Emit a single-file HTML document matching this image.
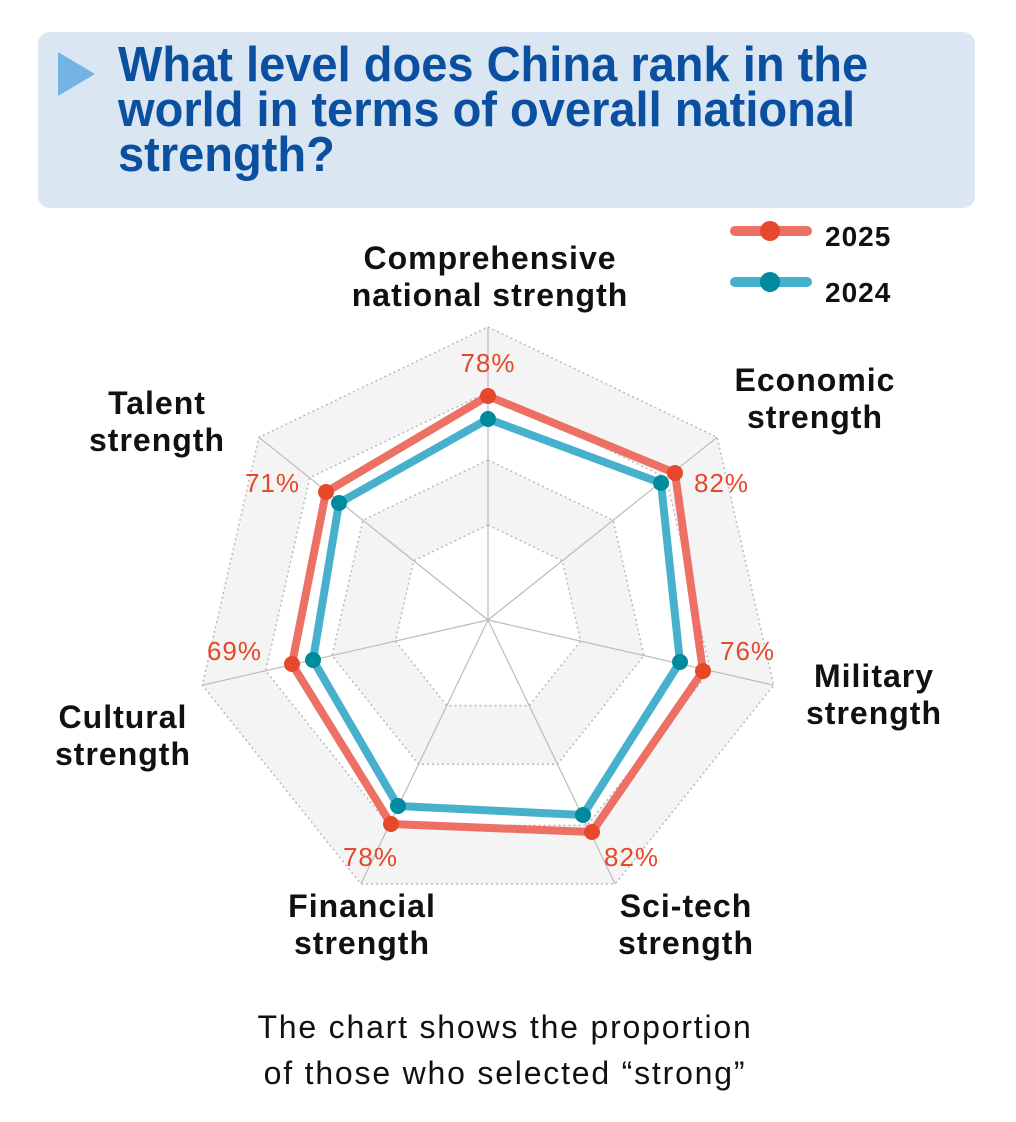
<!DOCTYPE html>
<html><head><meta charset="utf-8"><style>
body{margin:0;background:#fff;width:1016px;height:1122px;overflow:hidden;font-family:"Liberation Sans",sans-serif}
.box{position:absolute;left:38px;top:32px;width:937px;height:176px;background:#dae6f1;border-radius:12px}
.tri{position:absolute;left:58px;top:52px;width:0;height:0;border-top:22px solid transparent;border-bottom:22px solid transparent;border-left:37px solid #74b4e2}
.title{position:absolute;left:118px;top:43px;font-family:"Liberation Sans",sans-serif;font-weight:bold;font-size:49px;line-height:45px;color:#0a4fa0;transform:scaleX(0.96);transform-origin:0 0;white-space:nowrap}
</style></head><body>
<div class="box"></div><div class="tri"></div>
<div class="title">What level does China rank in the<br>world in terms of overall national<br>strength?</div>
<svg width="1016" height="1122" style="position:absolute;left:0;top:0">
<g id="rings"></g>
<script>
(function(){
var cx=488,cy=620,g=document.getElementById('rings'),ns='http://www.w3.org/2000/svg';
function poly(r){var p=[];for(var i=0;i<7;i++){var a=(-90+i*360/7)*Math.PI/180;p.push((cx+r*Math.cos(a)).toFixed(1)+','+(cy+r*Math.sin(a)).toFixed(1));}return p.join(' ');}
var rs=[[293,'#f4f4f4'],[228,'#fff'],[160,'#f4f4f4'],[95,'#fff']];
rs.forEach(function(x){var e=document.createElementNS(ns,'polygon');e.setAttribute('points',poly(x[0]));e.setAttribute('fill',x[1]);e.setAttribute('stroke','#bbb');e.setAttribute('stroke-width','1.5');e.setAttribute('stroke-dasharray','2 3');g.appendChild(e);});
for(var i=0;i<7;i++){var a=(-90+i*360/7)*Math.PI/180;var l=document.createElementNS(ns,'line');l.setAttribute('x1',cx);l.setAttribute('y1',cy);l.setAttribute('x2',cx+293*Math.cos(a));l.setAttribute('y2',cy+293*Math.sin(a));l.setAttribute('stroke','#bbb');l.setAttribute('stroke-width','1.2');g.appendChild(l);}
})();
</script>
<polygon points="488,396 675,473 703,671 592,832 391,824 292,664 326,492" fill="none" stroke="#ec7063" stroke-width="8" stroke-linejoin="round"/>
<polygon points="488,419 661,483 680,662 583,815 398,806 313,660 339,503" fill="none" stroke="#47b1cd" stroke-width="8" stroke-linejoin="round"/>
<g fill="#e5482a">
<circle cx="488" cy="396" r="8"/><circle cx="675" cy="473" r="8"/><circle cx="703" cy="671" r="8"/><circle cx="592" cy="832" r="8"/><circle cx="391" cy="824" r="8"/><circle cx="292" cy="664" r="8"/><circle cx="326" cy="492" r="8"/></g>
<g fill="#008a9e">
<circle cx="488" cy="419" r="8"/><circle cx="661" cy="483" r="8"/><circle cx="680" cy="662" r="8"/><circle cx="583" cy="815" r="8"/><circle cx="398" cy="806" r="8"/><circle cx="313" cy="660" r="8"/><circle cx="339" cy="503" r="8"/></g>
<g font-family="Liberation Sans, sans-serif" font-size="26" letter-spacing="1" fill="#e5482a">
<text x="488" y="372" text-anchor="middle">78%</text>
<text x="694" y="492">82%</text>
<text x="720" y="660">76%</text>
<text x="604" y="866">82%</text>
<text x="398" y="866" text-anchor="end">78%</text>
<text x="262" y="660" text-anchor="end">69%</text>
<text x="300" y="492" text-anchor="end">71%</text>
</g>
<g font-family="Liberation Sans, sans-serif" font-size="32" letter-spacing="1" font-weight="bold" fill="#111" text-anchor="middle">
<text x="490" y="269">Comprehensive</text><text x="490" y="306">national strength</text>
<text x="815" y="391">Economic</text><text x="815" y="428">strength</text>
<text x="874" y="687">Military</text><text x="874" y="724">strength</text>
<text x="686" y="917">Sci-tech</text><text x="686" y="954">strength</text>
<text x="362" y="917">Financial</text><text x="362" y="954">strength</text>
<text x="123" y="728">Cultural</text><text x="123" y="765">strength</text>
<text x="157" y="414">Talent</text><text x="157" y="451">strength</text>
</g>
<line x1="735" y1="231" x2="807" y2="231" stroke="#ec7063" stroke-width="10" stroke-linecap="round"/>
<circle cx="770" cy="231" r="10" fill="#e5482a"/>
<line x1="735" y1="282" x2="807" y2="282" stroke="#47b1cd" stroke-width="10" stroke-linecap="round"/>
<circle cx="770" cy="282" r="10" fill="#008a9e"/>
<g font-family="Liberation Sans, sans-serif" font-size="28" letter-spacing="1" font-weight="bold" fill="#111">
<text x="825" y="246">2025</text><text x="825" y="302">2024</text></g>
<g font-family="Liberation Sans, sans-serif" font-size="32" letter-spacing="1.8" fill="#111" text-anchor="middle">
<text x="505" y="1038">The chart shows the proportion</text>
<text x="505" y="1084">of those who selected “strong”</text></g>
</svg>
</body></html>
